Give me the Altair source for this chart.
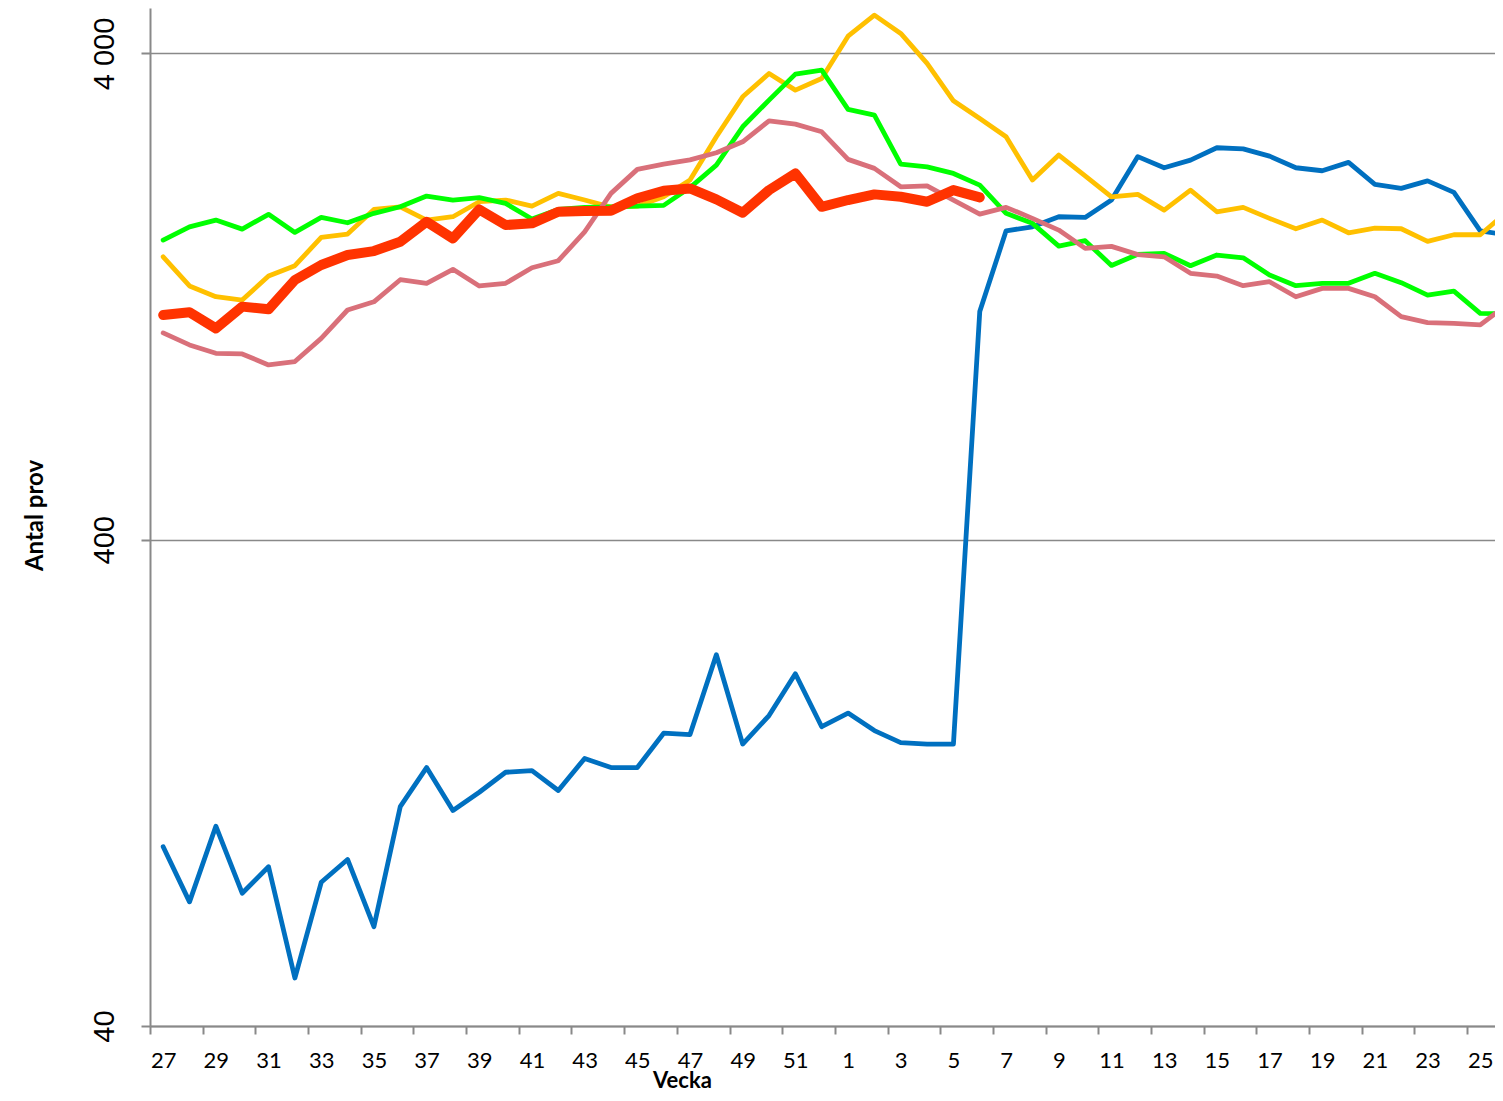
import json
import altair as alt
import pandas as pd

# Week categories (season from week 27 to week 26)
weeks = [str(w) for w in list(range(27, 53)) + list(range(1, 27))]

# Series values (Antal prov per vecka)
blue = [93.5, 72, 103, 75, 85, 50.2, 79, 88, 64, 113, 136, 111, 121, 133, 134, 122,
        142, 136, 136, 160, 159, 232, 152, 174, 212, 165,
        176, 162, 153, 152, 152, 1178, 1727, 1760, 1846, 1840, 1998, 2454, 2328, 2414,
        2559, 2546, 2460, 2328, 2295, 2388, 2151, 2111, 2188, 2072, 1727, 1693]
yellow = [1527, 1330, 1264, 1244, 1394, 1464, 1674, 1701, 1911, 1935, 1817, 1846, 1982,
          1998, 1941, 2062, 1998, 1932, 1941, 2029, 2196, 2696, 3257, 3638, 3362, 3553,
          4341, 4796, 4397, 3815, 3196, 2940, 2696, 2196, 2472, 2241, 2029, 2052, 1905,
          2094, 1890, 1930, 1832, 1744, 1817, 1711, 1749, 1744, 1643, 1695, 1695, 1887]
green = [1653, 1760, 1817, 1741, 1867, 1714, 1840, 1794, 1876, 1935, 2036, 1998, 2020,
         1966, 1826, 1911, 1930, 1935, 1941, 1948, 2119, 2357, 2826, 3207, 3626, 3696,
         3068, 2987, 2369, 2338, 2266, 2144, 1876, 1789, 1606, 1648, 1466, 1545, 1552,
         1464, 1540, 1520, 1401, 1332, 1347, 1347, 1412, 1351, 1274, 1298, 1168, 1165]
pink = [1065, 1006, 967, 964, 915, 930, 1038, 1187, 1234, 1370, 1347, 1439, 1330, 1347,
        1450, 1499, 1719, 2062, 2310, 2369, 2417, 2499, 2632, 2907, 2862, 2760,
        2422, 2321, 2127, 2137, 1998, 1869, 1930, 1832, 1733, 1589, 1604, 1543, 1527,
        1412, 1394, 1332, 1357, 1264, 1315, 1315, 1264, 1150, 1118, 1114, 1106, 1215]
red = [1159, 1174, 1088, 1206, 1191, 1368, 1469, 1540, 1569, 1640, 1802, 1666, 1911,
       1775, 1789, 1890, 1896, 1900, 2014, 2087, 2111, 2004, 1881, 2094, 2266, 1935,
       1998, 2052, 2029, 1982, 2094, 2023]

series = [
    ("Serie 1", blue, "#0070C0", 4.8),
    ("Serie 2", yellow, "#FFC000", 4.8),
    ("Serie 3", green, "#00FF00", 4.8),
    ("Serie 4", pink, "#D9707A", 4.8),
    ("Serie 5", red, "#FF3300", 10),
]

y_tick_values = [40, 400, 4000]
y_tick_labels = ["40", "400", "4 000"]

rows = []
for name, vals, _, _ in series:
    for i, v in enumerate(vals):
        rows.append({"idx": i, "vecka": weeks[i], "serie": name, "prov": v})
df = pd.DataFrame(rows)

GRAY = "#898989"

x_tick_vals = [i - 0.5 for i in range(0, len(weeks), 2)]
x_label_expr = json.dumps(weeks) + "[round(datum.value + 0.5)]"
y_label_expr = (json.dumps(y_tick_labels) + "[indexof(" + json.dumps(y_tick_values)
                + ", datum.value)]")

x_enc = alt.X(
    "idx:Q",
    scale=alt.Scale(domain=[-0.5, 50.56], nice=False, zero=False),
    axis=alt.Axis(
        values=x_tick_vals, labelExpr=x_label_expr, labelOffset=13.17,
        tickSize=8, tickWidth=2, tickColor=GRAY, domainColor=GRAY, domainWidth=2,
        grid=False, labelFont="Lato", labelFontSize=22, labelColor="#000000",
        labelBaseline="alphabetic", labelAlign="center", labelPadding=33,
        labelFlush=False, labelOverlap=False,
        title="Vecka", titleFont="Lato", titleFontSize=22, titleFontWeight="bold",
        titleColor="#000000", titleX=532, titleY=61, titleAlign="center",
        titleBaseline="alphabetic",
    ),
)
y_enc = alt.Y(
    "prov:Q",
    scale=alt.Scale(type="log", domain=[40, 4960], nice=False),
    axis=alt.Axis(
        values=y_tick_values, labelExpr=y_label_expr,
        tickSize=9, tickWidth=2, tickColor=GRAY, domainColor=GRAY, domainWidth=2,
        grid=True, gridColor=GRAY, gridWidth=1.6,
        labelFont="Liberation Sans", labelFontSize=29, labelColor="#000000",
        labelAngle=270, labelAlign="center", labelBaseline="alphabetic",
        labelPadding=28, labelFlush=False, labelOverlap=False,
        title="Antal prov", titleFont="Lato", titleFontSize=24, titleFontWeight="bold",
        titleColor="#000000", titleAngle=270, titleX=-108, titleY=507,
        titleAlign="center", titleBaseline="alphabetic",
    ),
)

base = alt.Chart(df).encode(x=x_enc, y=y_enc)

layers = []
for name, _, color, width in series:
    layers.append(
        base.transform_filter(alt.datum.serie == name).mark_line(
            color=color, strokeWidth=width, clip=True,
            strokeCap="round", strokeJoin="round",
        )
    )

chart = alt.layer(*layers).properties(
    width=1345,
    height=1018,
    autosize=alt.AutoSizeParams(type="none"),
    padding={"left": 142, "top": 0, "right": 0, "bottom": 66},
    background="#FFFFFF",
).configure_view(strokeWidth=0)

chart.save("out.html", embed_options={"renderer": "svg", "actions": False})
